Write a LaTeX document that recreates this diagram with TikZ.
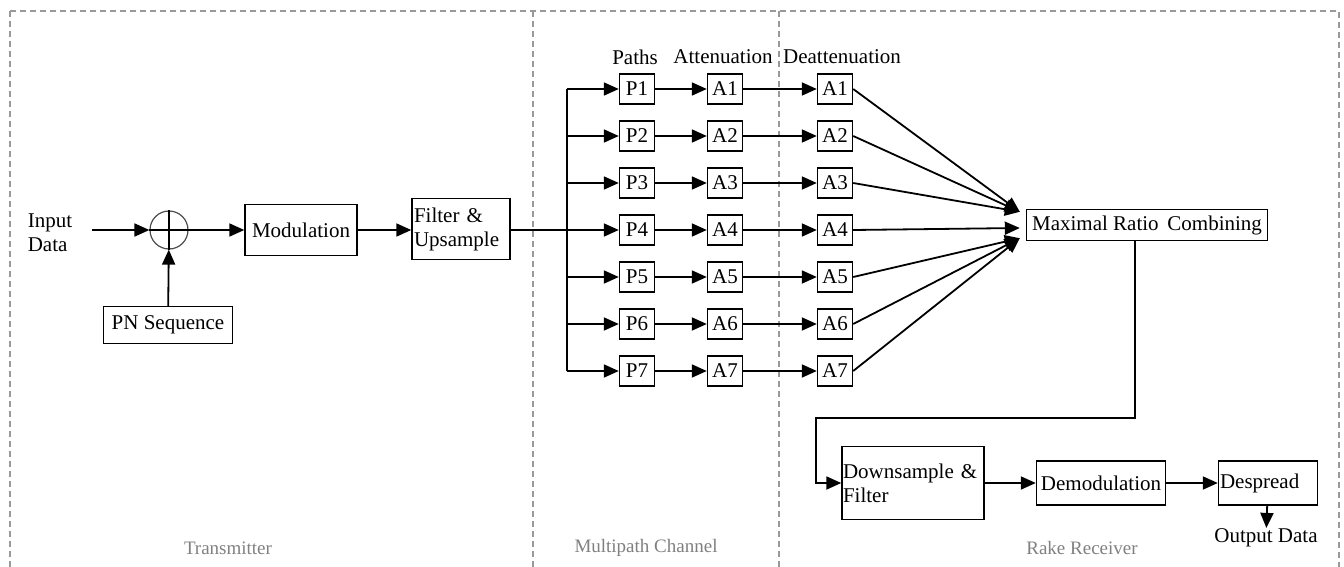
\documentclass[tikz,border=0pt]{standalone}
\usepackage{fontspec}
\setmainfont{Liberation Serif}
\usetikzlibrary{arrows.meta,calc,positioning}

\begin{document}
\begin{tikzpicture}[x=0.5pt,y=-0.5pt,line width=0.9pt,
  >={Triangle[length=7.5pt,width=6.5pt]},
  blk/.style={draw,line width=0.7pt,inner sep=1.5pt,font=\fontsize{10.5}{12}\selectfont},
  tap/.style={blk,minimum width=17.5pt,minimum height=15pt,inner sep=0pt},
  lbl/.style={inner sep=0pt,font=\fontsize{10.5}{12}\selectfont},
  sec/.style={inner sep=0pt,text=black!50,font=\fontsize{9.5}{11}\selectfont},
  frame/.style={draw=black!40,line width=0.6pt,dash pattern=on 3pt off 2pt}]
\useasboundingbox (0,0) rectangle (1344,567);

% dashed sections
\draw[frame] (10,11) rectangle (1339,600);
\draw[frame] (533,11) -- (533,600);
\draw[frame] (779,11) -- (779,600);
\node[sec] (tx) at (228,548) {Transmitter};
\node[sec] (ch) at (646,548) {Multipath Channel};
\node[sec] (rx) at (1082,548) {Rake Receiver};

% transmitter
\node[lbl,align=left] (in) at (50,233) {Input\\Data};
\coordinate (inp) at (92,230);
\node[draw=black!70,line width=0.6pt,circle,minimum size=19pt,inner sep=0pt] (sum) at (169,230) {};
\draw (sum.north) -- (sum.south) (sum.west) -- (sum.east);
\node[blk,minimum width=64.5pt,minimum height=18.5pt] (pn) at (168,325) {PN Sequence};
\node[blk,minimum width=56pt,minimum height=25.5pt] (mod) at (301,230) {Modulation};
\node[blk,minimum height=30.5pt,text width=47pt,align=left,inner sep=1pt] (filt) at (461,229) {Filter \&\\Upsample};
\draw[->] (inp) -- (sum);
\draw[->] (pn) -- (sum);
\draw[->] (sum) -- (mod);
\draw[->] (mod) -- (filt.west |- mod);

% multipath channel
\node[lbl] (hp) at (635,57) {Paths};
\node[lbl] (ha) at (723,57) {Attenuation};
\node[lbl] (hd) at (842,57) {Deattenuation};
\node[blk,minimum width=120.5pt,minimum height=15.5pt] (mrc) at (1147,225) {Maximal Ratio\, Combining};
\coordinate (mt) at ($(mrc.north west)+(-6,3)$);
\coordinate (mm) at ($(mrc.west)+(-6,3)$);
\coordinate (mb) at ($(mrc.south west)+(-6,-3)$);
\coordinate (br) at (567,230);
\foreach \i in {1,...,7}{
  \node[tap] (p\i) at (637,{230+47*(\i-4)}) {P\i};
  \node[tap] (a\i) at (725,{230+47*(\i-4)}) {A\i};
  \node[tap] (d\i) at (835,{230+47*(\i-4)}) {A\i};
  \draw[->] (br |- p\i) -- (p\i);
  \draw[->] (p\i) -- (a\i);
  \draw[->] (a\i) -- (d\i);
}
\draw (filt.east |- br) -- (br);
\draw (br |- p1) -- (br |- p7);
\foreach \i in {1,2,3} \draw[->] (d\i.east) -- (mt);
\draw[->] (d4.east) -- (mm);
\foreach \i in {5,6,7} \draw[->] (d\i.east) -- (mb);

% rake receiver
\node[blk,minimum height=36.5pt,text width=70pt,align=left,inner sep=0.5pt] (dsf) at (913,483) {Downsample \&\\Filter};
\node[blk,minimum width=64.5pt,minimum height=22pt,inner sep=0.5pt] (dem) at (1101,483) {Demodulation};
\node[blk,minimum width=49.5pt,minimum height=22pt,text width=48pt,align=left,inner sep=0.5pt] (dsp) at (1268,483) {Despread};
\node[lbl] (out) at (1266,538) {Output Data};
\coordinate (k1) at (1135,418);
\coordinate (k2) at (816,418);
\draw[->] (mrc.south -| k1) -- (k1) -- (k2) |- (dsf.west);
\draw[->] (dsf) -- (dem);
\draw[->] (dem) -- (dsp);
\draw[->] (dsp) -- (out);
\end{tikzpicture}
\end{document}
